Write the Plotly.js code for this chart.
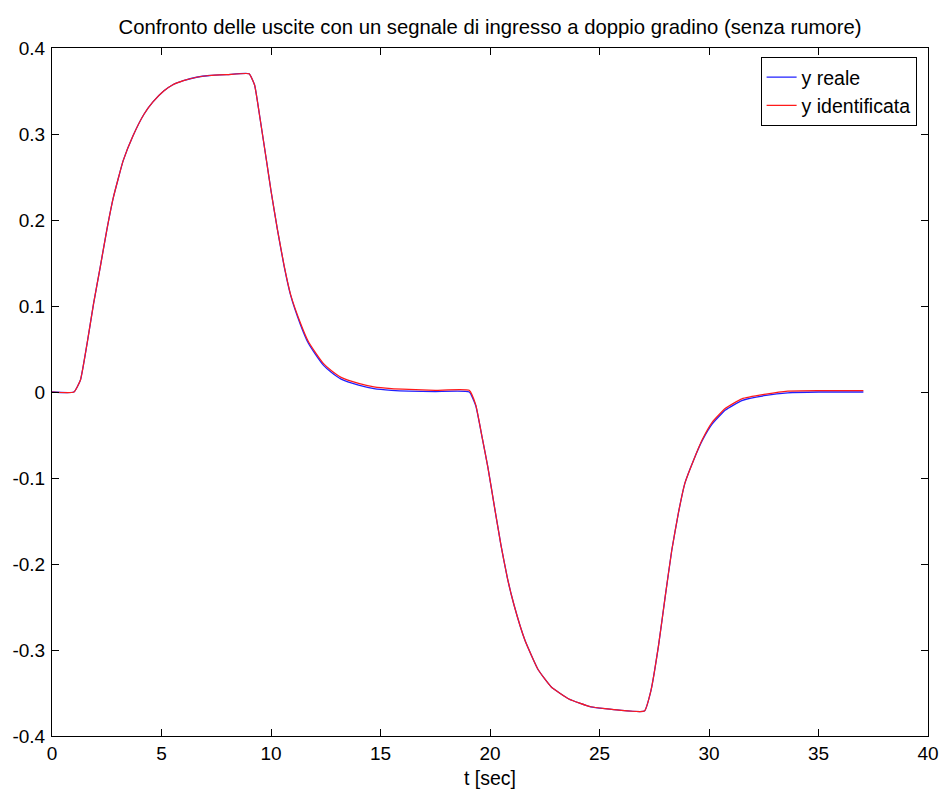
<!DOCTYPE html>
<html>
<head>
<meta charset="utf-8">
<script src="https://cdn.plot.ly/plotly-3.0.1.min.js"></script>
<style>
  html, body { margin: 0; padding: 0; background: #ffffff; }
  #chart { width: 941px; height: 790px; }
</style>
</head>
<body>
<div id="chart"></div>
<script>
// Time samples [sec]
const tSec = [0, 1.0, 1.3, 1.6, 1.9, 2.2, 2.5, 2.8, 3.25, 3.7,
  4.2, 4.6, 5.1, 5.5, 6.0, 6.6, 7.2, 8.0, 9.0, 9.25,
  9.5, 9.8, 10.0, 10.3, 10.6, 10.9, 11.35, 11.7, 12.0, 12.4,
  12.75, 13.2, 14.0, 14.7, 15.5, 16.3, 17.5, 19.05, 19.35, 19.65,
  19.9, 20.2, 20.5, 20.8, 21.1, 21.6, 22.2, 22.8, 23.6, 24.6,
  25.9, 27.05, 27.35, 27.7, 28.0, 28.3, 28.6, 28.9, 29.3, 29.7,
  30.15, 30.75, 31.5, 32.6, 33.6, 35.0, 37.05];

// y reale
const yReale = [0, 0, 0.014, 0.056, 0.103, 0.145, 0.188, 0.226, 0.269, 0.298,
  0.323, 0.337, 0.350, 0.357, 0.362, 0.366, 0.368, 0.369, 0.370, 0.357,
  0.318, 0.268, 0.234, 0.188, 0.146, 0.112, 0.078, 0.057, 0.045, 0.031,
  0.023, 0.015, 0.008, 0.004, 0.002, 0.001, 0.0005, 0.0, -0.016, -0.054,
  -0.087, -0.133, -0.178, -0.217, -0.248, -0.289, -0.323, -0.343, -0.357, -0.366,
  -0.370, -0.371, -0.347, -0.294, -0.238, -0.184, -0.141, -0.106, -0.079, -0.056,
  -0.037, -0.021, -0.010, -0.004, -0.001, 0.0, 0.0];

// y identificata
const yIdentificata = [0, 0, 0.014, 0.056, 0.103, 0.145, 0.188, 0.226, 0.269, 0.298,
  0.323, 0.337, 0.350, 0.357, 0.362, 0.366, 0.368, 0.369, 0.370, 0.357,
  0.318, 0.268, 0.234, 0.188, 0.147, 0.113, 0.080, 0.059, 0.047, 0.033,
  0.025, 0.017, 0.010, 0.006, 0.004, 0.003, 0.002, 0.002, -0.015, -0.054,
  -0.087, -0.133, -0.178, -0.217, -0.248, -0.289, -0.323, -0.343, -0.357, -0.366,
  -0.370, -0.371, -0.347, -0.294, -0.238, -0.184, -0.141, -0.106, -0.079, -0.055,
  -0.035, -0.019, -0.008, -0.0025, 0.001, 0.0015, 0.0015];

const seriesNames = ['y reale', 'y identificata'];
const xTickVals = [0, 5, 10, 15, 20, 25, 30, 35, 40];
const yTickVals = [-0.4, -0.3, -0.2, -0.1, 0, 0.1, 0.2, 0.3, 0.4];
const yTickText = ['-0.4', '-0.3', '-0.2', '-0.1', '0', '0.1', '0.2', '0.3', '0.4'];

const titleText = 'Confronto delle uscite con un segnale di ingresso a doppio gradino (senza rumore)';
const xTitleText = 't [sec]';

const FONT = '"Liberation Sans", Arial, Helvetica, sans-serif';

const traces = [
  { x: tSec, y: yReale, type: 'scatter', mode: 'lines', name: seriesNames[0],
    line: { color: '#2020ff', width: 1.3, shape: 'spline', smoothing: 0.4 } },
  { x: tSec, y: yIdentificata, type: 'scatter', mode: 'lines', name: seriesNames[1],
    line: { color: '#ff1a1a', width: 1.2, shape: 'spline', smoothing: 0.4 } }
];

const axisCommon = {
  showline: true, linecolor: '#000000', linewidth: 1,
  mirror: 'ticks', ticks: 'inside', ticklen: 7, tickwidth: 1, tickcolor: '#000000',
  showgrid: false, zeroline: false,
  tickfont: { family: FONT, size: 19, color: '#000000' }
};

const layout = {
  width: 941, height: 790,
  paper_bgcolor: '#ffffff', plot_bgcolor: '#ffffff',
  margin: { l: 52, r: 13, t: 48, b: 54 },
  font: { family: FONT, size: 19, color: '#000000' },
  title: { text: titleText, font: { family: FONT, size: 20.3, color: '#000000' },
    x: 0.5, xref: 'paper', y: 1 - 27 / 790, yref: 'container', yanchor: 'middle' },
  xaxis: Object.assign({}, axisCommon, {
    range: [0, 40], tickmode: 'array', tickvals: xTickVals,
    title: { text: xTitleText, font: { family: FONT, size: 19.5, color: '#000000' }, standoff: 8 },
    ticklabelstandoff: 0
  }),
  yaxis: Object.assign({}, axisCommon, {
    range: [-0.4, 0.4], tickmode: 'array', tickvals: yTickVals, ticktext: yTickText,
    ticklabelstandoff: 2
  }),
  showlegend: true,
  legend: {
    x: 0.987, xanchor: 'right', y: 0.987, yanchor: 'top',
    bgcolor: '#ffffff', bordercolor: '#000000', borderwidth: 1,
    font: { family: FONT, size: 19.5, color: '#000000' },
    tracegroupgap: 0, itemwidth: 30
  }
};

Plotly.newPlot('chart', traces, layout, { displayModeBar: false, staticPlot: true });
</script>
</body>
</html>
